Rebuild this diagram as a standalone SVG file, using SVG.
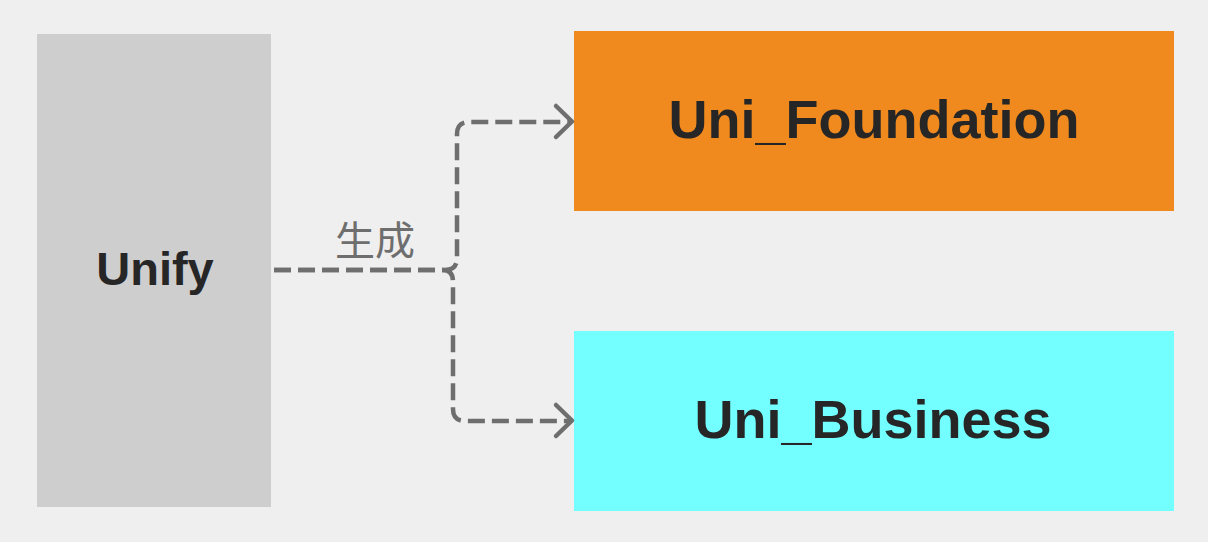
<svg xmlns="http://www.w3.org/2000/svg" width="1208" height="542" viewBox="0 0 1208 542">
  <style>
    .lbl { font-family: "Liberation Sans", Arial, sans-serif; font-weight: bold; fill: #262626; text-anchor: middle; }
    .edge { fill: none; stroke: #6e6e6e; stroke-width: 4.5; stroke-dasharray: 17 7; }
    .arrow { fill: none; stroke: #6e6e6e; stroke-width: 4.5; stroke-linecap: round; stroke-linejoin: round; }
    .elbl { font-family: "Liberation Sans", "Noto Sans CJK SC", sans-serif; font-size: 40px; fill: #6e6e6e; text-anchor: middle; }
  </style>
  <rect x="0" y="0" width="1208" height="542" fill="#efefef"/>
  <g id="unify">
    <rect x="37" y="34" width="234" height="473" fill="#cecece"/>
    <text class="lbl" x="155" y="285" font-size="47">Unify</text>
  </g>
  <g id="uni_foundation">
    <rect x="574" y="31" width="600" height="180" fill="#f08a1e"/>
    <text class="lbl" x="874" y="138" font-size="54">Uni_Foundation</text>
  </g>
  <g id="uni_business">
    <rect x="574" y="331" width="600" height="180" fill="#73ffff"/>
    <text class="lbl" x="873" y="438" font-size="54">Uni_Business</text>
  </g>
  <g id="connectors">
    <path class="edge" d="M274,270 H445 Q457,270 457,258 V134 Q457,122 469,122 H570"/>
    <path class="edge" d="M274,270 H443 Q453,270 453,282 V409 Q453,421 465,421 H570"/>
    <path class="arrow" d="M556,106 L572,121.5 L556,137"/>
    <path class="arrow" d="M556,405 L572,420.5 L556,436"/>
    <text class="elbl" x="375" y="255">生成</text>
  </g>
</svg>
